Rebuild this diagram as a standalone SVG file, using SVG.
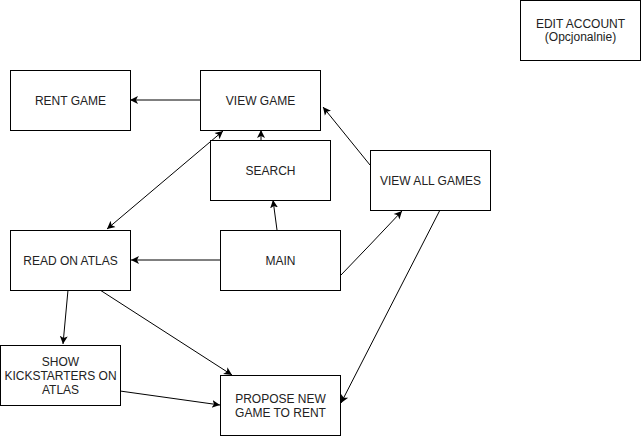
<svg xmlns="http://www.w3.org/2000/svg" width="641" height="436" viewBox="0 0 641 436">
<style>
.box{fill:#fff;stroke:#000;stroke-width:1}
.t{font-family:"Liberation Sans",Arial,sans-serif;font-size:12px;fill:#222;text-anchor:middle}
.e{fill:none;stroke:#000;stroke-width:1}
</style>
<defs>
<marker id="a" markerUnits="userSpaceOnUse" markerWidth="10" markerHeight="10" refX="8" refY="4" orient="auto-start-reverse" viewBox="0 0 10 8">
<path d="M0,0 L8,4 L0,8 L2,4 Z" fill="#000"/>
</marker>
</defs>
<rect width="641" height="436" fill="#fff"/>
<g id="connectors">
<line class="e" x1="200" y1="100" x2="130" y2="100" marker-end="url(#a)"/>
<line class="e" x1="261" y1="140" x2="261" y2="130" marker-end="url(#a)"/>
<line class="e" x1="277" y1="230" x2="273" y2="200" marker-end="url(#a)"/>
<line class="e" x1="223" y1="131" x2="107" y2="229" marker-start="url(#a)" marker-end="url(#a)"/>
<line class="e" x1="220" y1="260" x2="131" y2="260" marker-end="url(#a)"/>
<path class="e" d="M341,275 Q370,245 402,211" marker-end="url(#a)"/>
<line class="e" x1="370" y1="165" x2="323" y2="107" marker-end="url(#a)"/>
<line class="e" x1="440" y1="210" x2="341" y2="403" marker-end="url(#a)"/>
<line class="e" x1="68" y1="290" x2="63" y2="344" marker-end="url(#a)"/>
<line class="e" x1="120" y1="391" x2="220" y2="405" marker-end="url(#a)"/>
<line class="e" x1="100" y1="290" x2="232" y2="375" marker-end="url(#a)"/>
</g>
<g id="edit-account"><rect class="box" x="520.5" y="0.5" width="120" height="60"/><text class="t" x="580.5" y="28">EDIT ACCOUNT</text><text class="t" x="580.5" y="41">(Opcjonalnie)</text></g>
<g id="rent-game"><rect class="box" x="10.5" y="70.5" width="120" height="60"/><text class="t" x="70.5" y="104.5">RENT GAME</text></g>
<g id="view-game"><rect class="box" x="200.5" y="70.5" width="120" height="60"/><text class="t" x="260.5" y="104.5">VIEW GAME</text></g>
<g id="search"><rect class="box" x="210.5" y="140.5" width="120" height="60"/><text class="t" x="270.5" y="174.5">SEARCH</text></g>
<g id="view-all-games"><rect class="box" x="370.5" y="150.5" width="120" height="60"/><text class="t" x="430.5" y="184.5">VIEW ALL GAMES</text></g>
<g id="read-on-atlas"><rect class="box" x="10.5" y="230.5" width="120" height="60"/><text class="t" x="70.5" y="264.5">READ ON ATLAS</text></g>
<g id="main"><rect class="box" x="220.5" y="230.5" width="120" height="60"/><text class="t" x="280.5" y="264.5">MAIN</text></g>
<g id="show-kickstarters"><rect class="box" x="0.5" y="345.5" width="120" height="60"/><text class="t" x="60.5" y="366">SHOW</text><text class="t" x="60.5" y="380">KICKSTARTERS ON</text><text class="t" x="60.5" y="394">ATLAS</text></g>
<g id="propose-new-game"><rect class="box" x="220.5" y="375.5" width="120" height="60"/><text class="t" x="280.5" y="403">PROPOSE NEW</text><text class="t" x="280.5" y="417">GAME TO RENT</text></g>
</svg>
